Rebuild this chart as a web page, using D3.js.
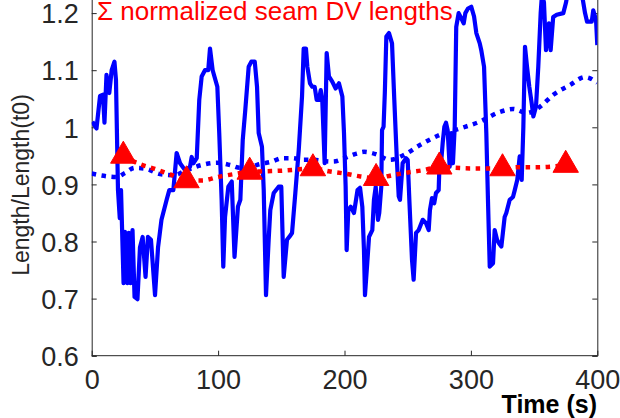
<!DOCTYPE html>
<html><head><meta charset="utf-8">
<script src="https://cdn.jsdelivr.net/npm/d3@7"></script>
<style>html,body{margin:0;padding:0;background:#fff;}svg{display:block;font-family:"Liberation Sans",Arial,Helvetica,sans-serif;}</style>
</head><body><div id="chart"></div>
<script>
// ---- data ----
const xTicks = [0, 100, 200, 300, 400];
const yTicks = [0.6, 0.7, 0.8, 0.9, 1, 1.1, 1.2];
const yTickLabels = ["0.6", "0.7", "0.8", "0.9", "1", "1.1", "1.2"];
const xLabel = "Time (s)";
const yLabel = "Length/Length(t0)";
const legendLabel = "Σ normalized seam DV lengths";

const blueTime = [0.5,3.8,6.6,8.9,10.1,11.7,13.9,15.8,18.0,19.2,20.8,22.2,23.2,25.2,26.3,28.2,29.3,30.7,32.3,33.9,36.2,38.2,40.3,42.6,44.5,46.9,50.1,52.5,55.2,57.2,59.3,61.4,64.6,67.2,69.9,73.8,77.8,79.1,80.4,83.1,85.1,87.0,89.6,92.2,93.6,95.7,99.4,100.9,102.8,104.1,105.5,108.1,110.8,113.0,115.7,117.6,119.5,121.5,124.2,126.3,129.0,130.8,132.1,134.7,136.1,137.9,140.0,141.3,144.0,147.9,150.0,151.1,151.9,154.5,156.3,158.5,161.1,163.8,166.4,167.7,169.5,170.6,172.7,174.5,176.4,178.0,179.8,181.2,182.4,184.3,185.9,187.7,190.3,193.0,195.6,198.3,199.6,200.9,201.7,203.0,204.9,207.5,210.3,212.3,214.1,215.4,216.2,218.0,219.4,222.0,223.3,224.7,226.5,227.5,229.1,229.7,230.9,231.9,233.1,235.2,237.6,239.4,241.3,242.9,243.9,246.0,248.7,250.0,251.3,253.4,254.7,256.6,258.7,261.9,264.5,266.6,267.6,269.2,271.0,272.4,274.5,275.0,276.6,277.7,279.0,280.3,281.6,283.2,284.5,285.8,287.2,288.4,290.3,292.4,294.3,295.6,297.7,300.3,302.5,304.3,307.0,308.2,310.4,312.2,313.5,314.9,317.5,318.8,320.7,322.2,324.1,326.7,328.0,330.7,333.3,334.7,336.7,338.6,339.2,340.2,341.5,342.8,344.4,346.2,348.1,349.4,351.5,353.3,355.2,356.2,357.8,359.4,361.7,363.1,365.1,367.9,373.1,375.2,376.8,382.4,387.9,390.3,391.9,395.6,396.8,399.0,400];
const blueValue = [1.010,0.998,1.055,1.057,1.008,1.092,1.060,1.100,1.115,1.083,0.890,0.841,0.890,0.727,0.817,0.727,0.815,0.727,0.820,0.703,0.699,0.790,0.808,0.738,0.808,0.803,0.706,0.790,0.838,0.855,0.873,0.890,0.890,0.955,0.937,0.925,0.931,0.948,0.937,0.946,1.048,1.089,1.100,1.100,1.138,1.100,1.071,0.990,0.873,0.756,0.843,0.896,0.905,0.773,0.861,0.873,0.978,1.030,1.106,1.115,1.115,1.071,0.990,0.966,0.890,0.706,0.803,0.855,0.885,0.896,0.896,0.803,0.738,0.803,0.808,0.815,0.885,0.960,1.054,1.138,1.138,1.106,1.077,1.071,1.071,1.048,1.048,1.065,1.048,0.937,1.130,1.089,1.080,1.068,1.077,1.054,0.990,0.896,0.785,0.855,0.861,0.850,0.890,0.894,0.861,0.785,0.706,0.762,0.808,0.820,0.873,0.896,0.838,0.850,0.896,0.995,1.001,1.060,1.159,1.165,1.147,1.048,0.949,0.879,0.873,0.937,0.946,0.943,0.873,0.768,0.733,0.815,0.820,0.838,0.832,0.820,0.855,0.876,0.867,0.885,0.890,0.925,0.943,0.973,1.001,1.008,0.995,0.931,0.990,0.937,1.001,1.176,1.200,1.191,1.182,1.200,1.208,1.211,1.194,1.165,1.147,1.135,1.106,0.990,0.873,0.756,0.762,0.820,0.803,0.797,0.791,0.843,0.850,0.873,0.878,0.890,0.908,0.949,0.943,0.908,1.001,1.141,1.106,1.071,1.042,1.019,1.036,1.106,1.200,1.232,1.219,1.135,1.182,1.135,1.193,1.197,1.200,1.218,1.238,1.250,1.232,1.200,1.185,1.185,1.205,1.188,1.144];

const blueSmoothTime = [0,6.6,19.8,26.3,34,43.5,54,64.6,75.2,87,98.9,109.4,117.3,125,134,142.6,150.6,158.5,167.7,175.3,183,191.1,200,209.7,215.4,224.7,236,246.5,259.7,275.6,291.4,307.2,323,333.5,344.1,354.7,365.2,378.4,390.3,400];
const blueSmoothValue = [0.919,0.916,0.913,0.920,0.929,0.927,0.918,0.916,0.925,0.934,0.938,0.934,0.929,0.931,0.936,0.940,0.946,0.946,0.943,0.943,0.941,0.940,0.946,0.954,0.957,0.953,0.943,0.951,0.969,0.987,0.998,1.010,1.027,1.032,1.025,1.036,1.057,1.074,1.088,1.078];

const redTime = [25,37.5,50,62.5,75,87.5,100,112.5,125,137.5,150,162.5,175,187.5,200,212.5,225,237.5,250,262.5,275,287.5,300,312.5,325,337.5,350,362.5,375];
const redValue = [0.950,0.936,0.927,0.917,0.907,0.907,0.913,0.918,0.922,0.923,0.924,0.926,0.928,0.923,0.919,0.914,0.911,0.916,0.921,0.925,0.931,0.929,0.928,0.928,0.928,0.930,0.930,0.931,0.934];
const markerTimes = [25,75,125,175,225,275,325,375];

// ---- layout ----
const W = 620, H = 418;
const x0 = 91.7, x1 = 597.3, yBottom = 355.7, pxPerTenth = 57.1;
const svg = d3.select("#chart").append("svg").attr("width", W).attr("height", H);
svg.append("rect").attr("width", W).attr("height", H).attr("fill", "#fff");

const x = d3.scaleLinear().domain([0, 400]).range([x0, x1]);
const y = d3.scaleLinear().domain([0.6, 1.3]).range([yBottom, yBottom - 7 * pxPerTenth]);

svg.append("clipPath").attr("id", "plotclip").append("rect")
  .attr("x", x0).attr("y", y(1.3)).attr("width", x1 - x0).attr("height", yBottom - y(1.3));

const axisColor = "#262626";
const axG = svg.append("g");
axG.append("g").attr("transform", `translate(0,${yBottom})`)
  .call(d3.axisBottom(x).tickValues(xTicks).tickSize(-5).tickPadding(14).tickFormat(d3.format("d")))
  .call(g => { g.select(".domain").attr("stroke", axisColor).attr("d", `M${x0},0H${x1}`); g.selectAll("line").attr("stroke", axisColor); g.selectAll("text").attr("fill", axisColor).attr("font-size", 27).attr("dy", "0.71em"); });
axG.append("g").attr("transform", `translate(${x0},0)`)
  .call(d3.axisLeft(y).tickValues(yTicks).tickSize(-5).tickPadding(13).tickFormat((d, i) => yTickLabels[i]))
  .call(g => { g.select(".domain").attr("stroke", axisColor); g.selectAll("line").attr("stroke", axisColor); g.selectAll("text").attr("fill", axisColor).attr("font-size", 27).attr("dy", "0.36em"); });
axG.append("g").attr("transform", `translate(${x1},0)`)
  .call(d3.axisRight(y).tickValues(yTicks).tickSize(-5).tickFormat(""))
  .call(g => { g.select(".domain").attr("stroke", axisColor); g.selectAll("line").attr("stroke", axisColor); });

const plot = svg.append("g").attr("clip-path", "url(#plotclip)");

const blueData = d3.zip(blueTime, blueValue);
const blueSmooth = d3.zip(blueSmoothTime, blueSmoothValue);
const redData = d3.zip(redTime, redValue);

const lineLin = d3.line().x(d => x(d[0])).y(d => y(d[1]));
const lineSmooth = d3.line().x(d => x(d[0])).y(d => y(d[1])).curve(d3.curveMonotoneX);

plot.append("path").datum(blueData).attr("d", lineLin)
  .attr("fill", "none").attr("stroke", "#0000ff").attr("stroke-width", 4.2).attr("stroke-linejoin", "round");
plot.append("path").datum(blueSmooth).attr("d", lineSmooth)
  .attr("fill", "none").attr("stroke", "#0000ff").attr("stroke-width", 4.5).attr("stroke-dasharray", "4.5,5.5");
plot.append("path").datum(redData).attr("d", lineSmooth)
  .attr("fill", "none").attr("stroke", "#ff0000").attr("stroke-width", 4.5).attr("stroke-dasharray", "4.5,5.5");

plot.selectAll(".marker").data(redData.filter(d => markerTimes.includes(d[0]))).enter()
  .append("path").attr("class", "marker")
  .attr("transform", d => `translate(${x(d[0])},${y(d[1])})`)
  .attr("d", d3.symbol().type(d3.symbolTriangle).size(280))
  .attr("fill", "#ff0000").attr("stroke", "#ff0000").attr("stroke-width", 1);

// legend text (glyph tops sit just under the top edge, as in the reference)
svg.append("text").attr("x", 97).attr("y", 20).attr("font-size", 26).attr("fill", "#ff0000").text(legendLabel);

// axis labels
svg.append("text").attr("x", 597).attr("y", 413).attr("text-anchor", "end")
  .attr("font-size", 25).attr("font-weight", "bold").attr("fill", "#000").text(xLabel);
svg.append("text").attr("transform", `translate(29,${185}) rotate(-90)`).attr("text-anchor", "middle")
  .attr("font-size", 23).attr("fill", axisColor).text(yLabel);
</script></body></html>
